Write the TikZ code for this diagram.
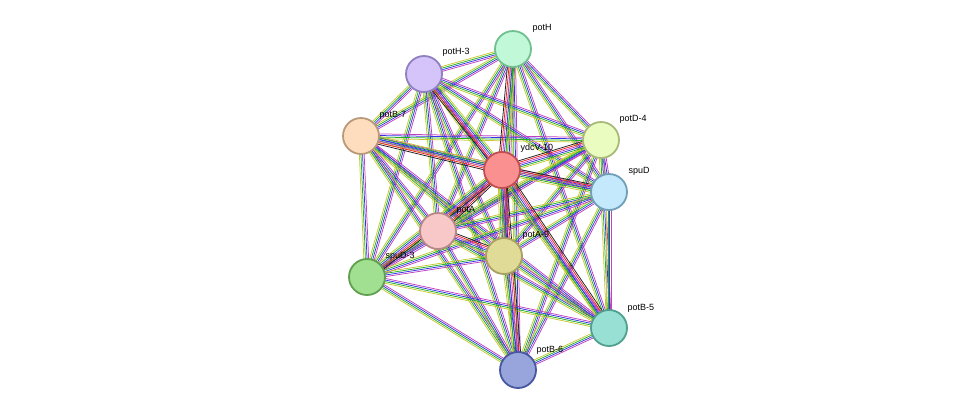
\documentclass[tikz,border=0pt]{standalone}
\usepackage{fontspec}
\setmainfont{Liberation Sans}
\usetikzlibrary{calc,backgrounds}
\definecolor{yl}{HTML}{C8C832}
\definecolor{gr}{HTML}{22B022}
\definecolor{bl}{HTML}{3535E6}
\definecolor{pu}{HTML}{C040C0}
\definecolor{rd}{HTML}{EE2020}
\definecolor{bk}{HTML}{202020}
\newcommand\dc[3]{\definecolor{f#1}{HTML}{#2}\definecolor{d#1}{HTML}{#3}}
\dc{H}{C0F8D8}{70C090}
\dc{HH}{D4C4FA}{9080C0}
\dc{BS}{FDDDBD}{B89A7A}
\dc{DF}{EAFCC0}{A8BA7A}
\dc{Y}{FA9090}{C05050}
\dc{S}{C4E8FC}{70A0B8}
\dc{A}{F8C8C8}{B88888}
\dc{AN}{E0DC98}{A8A060}
\dc{ST}{A0E090}{60A050}
\dc{BF}{98E0D4}{50A090}
\dc{BX}{98A4DC}{4858A0}
\newcommand\SA{-2.4/yl,-0.8/gr,0.8/bl,2.4/pu}
\newcommand\SC{-4/yl,-2.4/gr,-0.8/bl,0.8/pu,2.4/rd,4/bk}
\newcommand\ed[3]{\foreach \o/\c in #3 {\draw[\c,line width=0.75pt] ($(#1)!\o pt!90:(#2)$) -- ($(#2)!\o pt!-90:(#1)$);}}
\tikzset{nd/.style={circle,minimum size=36pt,line width=1.8pt,inner sep=0pt},
lb/.style={font=\fontsize{9}{11}\selectfont,anchor=west}}
\begin{document}
\begin{tikzpicture}[x=1pt,y=-1pt]
\useasboundingbox (0,0) rectangle (975,416);
\node[nd,fill=fH,draw=dH] (H) at (513,49) {};
\node[nd,fill=fHH,draw=dHH] (H3) at (424,74) {};
\node[nd,fill=fBS,draw=dBS] (B7) at (361,136) {};
\node[nd,fill=fDF,draw=dDF] (D4) at (601,140) {};
\node[nd,fill=fY,draw=dY] (Y) at (502,170) {};
\node[nd,fill=fS,draw=dS] (S) at (609,192) {};
\node[nd,fill=fA,draw=dA] (A) at (438,231) {};
\node[nd,fill=fAN,draw=dAN] (A9) at (504,256) {};
\node[nd,fill=fST,draw=dST] (S3) at (367,277) {};
\node[nd,fill=fBF,draw=dBF] (B5) at (609,328) {};
\node[nd,fill=fBX,draw=dBX] (B6) at (518,370) {};
\begin{pgfonlayer}{background}
\foreach \a/\b in {H/H3,H/B7,H/D4,H/S,H/A,H/A9,H/S3,H/B5,H/B6,H3/B7,H3/D4,H3/S,H3/A,H3/A9,H3/S3,H3/B5,H3/B6,B7/D4,B7/S,B7/A,B7/A9,B7/S3,B7/B5,B7/B6,D4/S,D4/A,D4/A9,D4/S3,D4/B5,D4/B6,S/A,S/A9,S/S3,S/B5,S/B6,A/S3,A/B5,A/B6,A9/S3,A9/B5,A9/B6,S3/B5,S3/B6,B5/B6}{\ed{\a}{\b}{\SA}}
\foreach \a in {H,H3,B7,D4,S,A,A9,S3,B5,B6}{\ed{Y}{\a}{\SC}}
\ed{A}{A9}{\SC}
\end{pgfonlayer}
\node[lb] at (529,28) {potH};
\node[lb] at (439,52) {potH-3};
\node[lb] at (376,115) {potB-7};
\node[lb] at (616,119) {potD-4};
\node[lb] at (517,148) {ydcV-10};
\node[lb] at (625,171) {spuD};
\node[lb] at (453,210) {potA};
\node[lb] at (519,235) {potA-9};
\node[lb] at (382,256) {spuD-3};
\node[lb] at (624,308) {potB-5};
\node[lb] at (533,350) {potB-6};
\end{tikzpicture}
\end{document}
